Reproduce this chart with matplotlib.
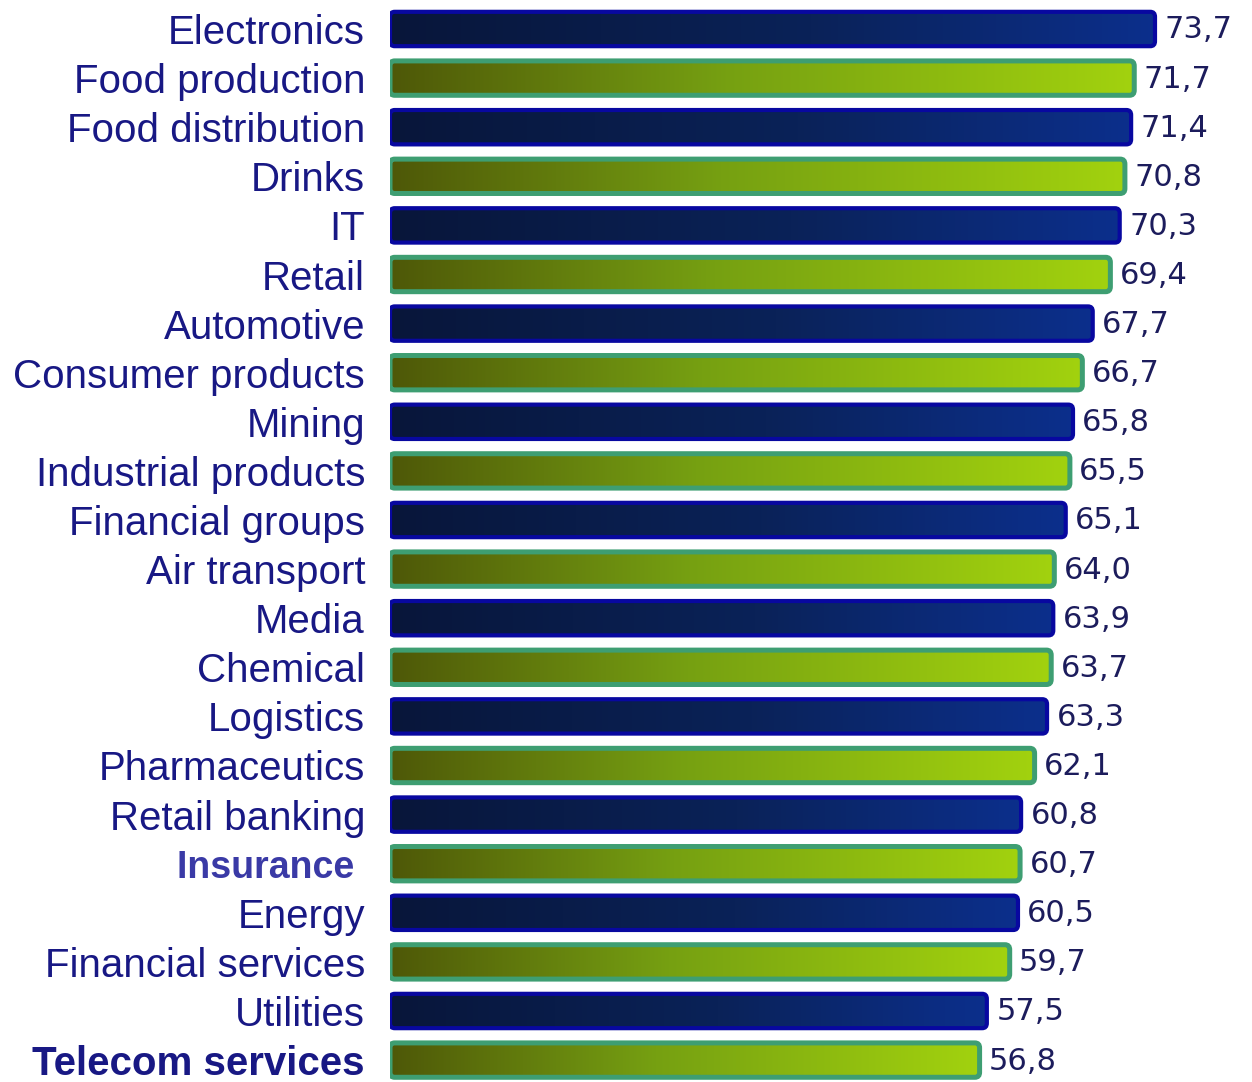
import numpy as np
import matplotlib
matplotlib.use("Agg")
import matplotlib.pyplot as plt
from matplotlib.colors import LinearSegmentedColormap
from matplotlib.patches import FancyBboxPatch

# Sector scores, top to bottom
sectors = [
    "Electronics", "Food production", "Food distribution", "Drinks", "IT",
    "Retail", "Automotive", "Consumer products", "Mining", "Industrial products",
    "Financial groups", "Air transport", "Media", "Chemical", "Logistics",
    "Pharmaceutics", "Retail banking", "Insurance ", "Energy",
    "Financial services", "Utilities", "Telecom services",
]
scores = [
    73.7, 71.7, 71.4, 70.8, 70.3, 69.4, 67.7, 66.7, 65.8, 65.5, 65.1,
    64.0, 63.9, 63.7, 63.3, 62.1, 60.8, 60.7, 60.5, 59.7, 57.5, 56.8,
]
bold_labels = ["Insurance ", "Telecom services"]

W, H = 1252, 1082
fig = plt.figure(figsize=(W / 100, H / 100), dpi=100)
fig.patch.set_facecolor("white")

row_px = 49.1
unit_px = 10.38
xmax = 78
top_px = 29 - 0.5 * row_px
n = len(sectors)
ax_h = n * row_px
ax = fig.add_axes([390 / W, 1 - (top_px + ax_h) / H, xmax * unit_px / W, ax_h / H])

pos = np.arange(n)
bars = ax.barh(pos, scores, height=0.7, color="none", edgecolor="none")
ax.set_xlim(0, xmax)
ax.set_ylim(n - 0.5, -0.5)

blue_cmap = LinearSegmentedColormap.from_list(
    "navy", [(0, "#08163a"), (0.55, "#0a2258"), (1, "#0c2f8c")])
green_cmap = LinearSegmentedColormap.from_list(
    "lime", [(0, "#4e5808"), (0.45, "#76a012"), (1, "#a2d20e")])
styles = [
    (blue_cmap, "#0808a0", 3.0),
    (green_cmap, "#3e9e72", 3.6),
]

grad = np.linspace(0, 1, 256).reshape(1, -1)
for i, bar in enumerate(bars):
    cmap, edge, lw = styles[i % 2]
    x0, y0, w, h = bar.get_x(), bar.get_y(), bar.get_width(), bar.get_height()
    box = FancyBboxPatch((x0, y0), w, h,
                         boxstyle="round,pad=0,rounding_size=0.45",
                         mutation_aspect=0.226,
                         facecolor="none", edgecolor=edge, linewidth=lw,
                         zorder=3)
    ax.add_patch(box)
    im = ax.imshow(grad, cmap=cmap, extent=(x0, x0 + w, y0 + h, y0),
                   aspect="auto", interpolation="bicubic", zorder=2)
    im.set_clip_path(box)
    ax.text(x0 + w + 0.9, pos[i] + 0.02,
            f"{scores[i]:.1f}".replace(".", ","),
            ha="left", va="center", fontsize=22, family="DejaVu Sans",
            color="#1c1c5c")

ax.set_ylim(n - 0.5, -0.5)
ax.set_xlim(0, xmax)
ax.set_yticks(pos, sectors)
ax.tick_params(axis="y", length=0, pad=18)
ax.tick_params(axis="x", bottom=False, labelbottom=False)
for lab in ax.get_yticklabels():
    txt = lab.get_text()
    lab.set_family("Liberation Sans")
    lab.set_fontsize(29)
    lab.set_color("#181884")
    if txt in bold_labels:
        lab.set_fontweight("bold")
    if txt == "Insurance ":
        lab.set_color("#3a3aa6")
        lab.set_fontsize(27)
for s in ax.spines.values():
    s.set_visible(False)
ax.set_facecolor("none")

fig.savefig("out.png", dpi=100, facecolor="white")
